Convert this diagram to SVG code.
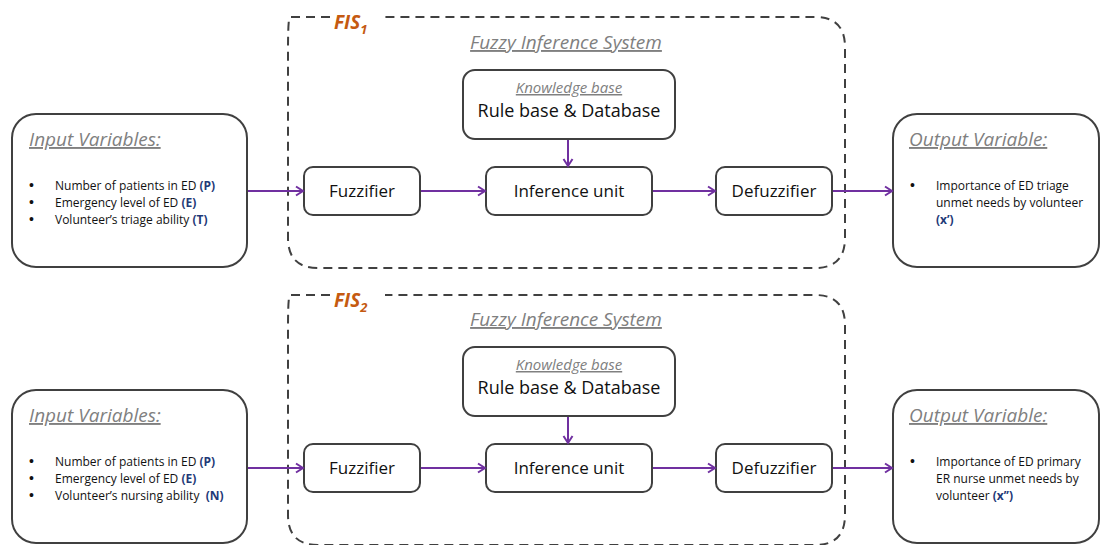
<svg xmlns="http://www.w3.org/2000/svg" width="1100" height="545" viewBox="0 0 1100 545">
<defs>
<marker id="ah" markerWidth="12" markerHeight="12" refX="9" refY="6" orient="auto" markerUnits="userSpaceOnUse">
<polyline points="2,1.5 9,6 2,10.5" fill="none" stroke="#7030A0" stroke-width="2"/>
</marker>
<style>
.box{fill:#fff;stroke:#404040;stroke-width:2}
.dash{fill:none;stroke:#404040;stroke-width:2;stroke-dasharray:9,6}
.conn{stroke:#7030A0;stroke-width:2;fill:none;marker-end:url(#ah)}
.head{font-family:"Open Sans","Liberation Sans",sans-serif;font-style:italic;text-decoration:underline;fill:#808080}
.lbl{font-family:"Open Sans","Liberation Sans",sans-serif;fill:#111}
.sm{font-family:"Open Sans","Liberation Sans",sans-serif;font-size:12px;fill:#111}
.bul{font-family:"Liberation Sans",sans-serif;font-size:14px;fill:#111}
.var{fill:#1F3A78;font-weight:bold}
.fis{font-family:"Open Sans","Liberation Sans",sans-serif;font-style:italic;font-weight:bold;fill:#C55A11;font-size:19px}
</style>
</defs>

<!-- Row 1 -->
<g id="fis1">
<path class="dash" d="M 330 17 H 290 Q 288 17 288 50 V 238 Q 288 268 318 268 H 815 Q 845 268 845 238 V 47 Q 845 17 815 17 H 385"/>
<text class="fis" x="334" y="29">FIS<tspan font-size="13" dy="5">1</tspan></text>
<text class="head" x="566" y="49" text-anchor="middle" font-size="19">Fuzzy Inference System</text>
</g>
<g id="input1">
<rect class="box" x="12" y="114" width="235" height="153" rx="24"/>
<text class="head" x="29" y="146" font-size="19">Input Variables:</text>
<text class="bul" x="29" y="190">•</text><text class="sm" x="55" y="190">Number of patients in ED <tspan class="var">(P)</tspan></text>
<text class="bul" x="29" y="207">•</text><text class="sm" x="55" y="207">Emergency level of ED <tspan class="var">(E)</tspan></text>
<text class="bul" x="29" y="224">•</text><text class="sm" x="55" y="224">Volunteer’s triage ability <tspan class="var">(T)</tspan></text>
</g>
<g id="kb1">
<rect class="box" x="463" y="70" width="212" height="69" rx="12"/>
<text class="head" x="569" y="93" text-anchor="middle" font-size="15">Knowledge base</text>
<text class="lbl" x="569" y="117" text-anchor="middle" font-size="18">Rule base &amp; Database</text>
</g>
<g id="fuzz1">
<rect class="box" x="304" y="167" width="116" height="48" rx="9"/>
<text class="lbl" x="362" y="197" text-anchor="middle" font-size="17">Fuzzifier</text>
</g>
<g id="inf1">
<rect class="box" x="486" y="167" width="166" height="48" rx="9"/>
<text class="lbl" x="569" y="197" text-anchor="middle" font-size="17">Inference unit</text>
</g>
<g id="defuzz1">
<rect class="box" x="716" y="167" width="116" height="48" rx="9"/>
<text class="lbl" x="774" y="197" text-anchor="middle" font-size="17">Defuzzifier</text>
</g>
<g id="output1">
<rect class="box" x="893" y="114" width="206" height="153" rx="24"/>
<text class="head" x="909" y="146" font-size="19">Output Variable:</text>
<text class="bul" x="910" y="190">•</text><text class="sm" x="936" y="190">Importance of ED triage</text>
<text class="sm" x="936" y="207">unmet needs by volunteer</text>
<text class="sm" x="936" y="224"><tspan class="var">(x’)</tspan></text>
</g>

<!-- Row 2 -->
<g id="fis2">
<path class="dash" d="M 330 295 H 290 Q 288 295 288 328 V 515 Q 288 545 318 545 H 815 Q 845 545 845 515 V 325 Q 845 295 815 295 H 385"/>
<text class="fis" x="334" y="307">FIS<tspan font-size="13" dy="5">2</tspan></text>
<text class="head" x="566" y="326" text-anchor="middle" font-size="19">Fuzzy Inference System</text>
</g>
<g id="input2">
<rect class="box" x="12" y="390" width="235" height="153" rx="24"/>
<text class="head" x="29" y="422" font-size="19">Input Variables:</text>
<text class="bul" x="29" y="466">•</text><text class="sm" x="55" y="466">Number of patients in ED <tspan class="var">(P)</tspan></text>
<text class="bul" x="29" y="483">•</text><text class="sm" x="55" y="483">Emergency level of ED <tspan class="var">(E)</tspan></text>
<text class="bul" x="29" y="500">•</text><text class="sm" x="55" y="500" xml:space="preserve">Volunteer’s nursing ability  <tspan class="var">(N)</tspan></text>
</g>
<g id="kb2">
<rect class="box" x="463" y="347" width="212" height="69" rx="12"/>
<text class="head" x="569" y="370" text-anchor="middle" font-size="15">Knowledge base</text>
<text class="lbl" x="569" y="394" text-anchor="middle" font-size="18">Rule base &amp; Database</text>
</g>
<g id="fuzz2">
<rect class="box" x="304" y="444" width="116" height="48" rx="9"/>
<text class="lbl" x="362" y="474" text-anchor="middle" font-size="17">Fuzzifier</text>
</g>
<g id="inf2">
<rect class="box" x="486" y="444" width="166" height="48" rx="9"/>
<text class="lbl" x="569" y="474" text-anchor="middle" font-size="17">Inference unit</text>
</g>
<g id="defuzz2">
<rect class="box" x="716" y="444" width="116" height="48" rx="9"/>
<text class="lbl" x="774" y="474" text-anchor="middle" font-size="17">Defuzzifier</text>
</g>
<g id="output2">
<rect class="box" x="893" y="390" width="206" height="153" rx="24"/>
<text class="head" x="909" y="422" font-size="19">Output Variable:</text>
<text class="bul" x="910" y="466">•</text><text class="sm" x="936" y="466">Importance of ED primary</text>
<text class="sm" x="936" y="483">ER nurse unmet needs by</text>
<text class="sm" x="936" y="500">volunteer <tspan class="var">(x’’)</tspan></text>
</g>

<g id="connectors">
<line class="conn" x1="248" y1="191" x2="303" y2="191"/>
<line class="conn" x1="421" y1="191" x2="485" y2="191"/>
<line class="conn" x1="653" y1="191" x2="715" y2="191"/>
<line class="conn" x1="833" y1="191" x2="892" y2="191"/>
<line class="conn" x1="568" y1="140" x2="568" y2="166"/>
<line class="conn" x1="248" y1="468" x2="303" y2="468"/>
<line class="conn" x1="421" y1="468" x2="485" y2="468"/>
<line class="conn" x1="653" y1="468" x2="715" y2="468"/>
<line class="conn" x1="833" y1="468" x2="892" y2="468"/>
<line class="conn" x1="568" y1="417" x2="568" y2="443"/>
</g>
</svg>
